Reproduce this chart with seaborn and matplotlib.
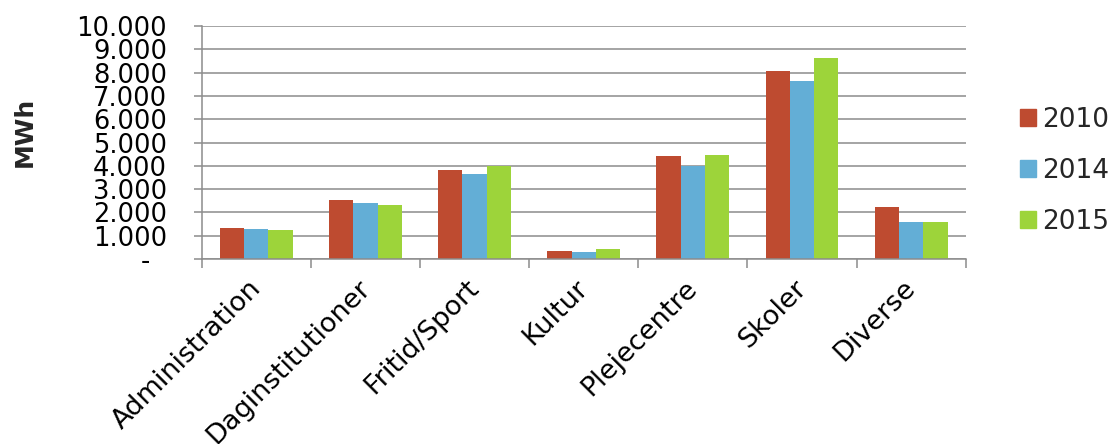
import matplotlib
matplotlib.use("Agg")
import matplotlib.pyplot as plt
import matplotlib.patches as mpatches
from matplotlib.ticker import FixedLocator, FuncFormatter
from matplotlib.transforms import ScaledTranslation
import numpy as np
import pandas as pd
import seaborn as sns

# Energy use per building category (MWh)
categories = ["Administration", "Daginstitutioner", "Fritid/Sport", "Kultur",
              "Plejecentre", "Skoler", "Diverse"]
years = ["2010", "2014", "2015"]
mwh_2010 = [1320, 2530, 3820, 340, 4420, 8050, 2230]
mwh_2014 = [1290, 2420, 3650, 290, 4010, 7640, 1570]
mwh_2015 = [1260, 2320, 3980, 420, 4460, 8610, 1570]
colors = ["#BE4B30", "#63AED6", "#9DD43A"]

df = pd.DataFrame({
    "Kategori": categories * 3,
    "År": [years[0]] * 7 + [years[1]] * 7 + [years[2]] * 7,
    "MWh": mwh_2010 + mwh_2014 + mwh_2015,
})

sns.set_theme(style="white")
plt.rcParams["font.family"] = ["DejaVu Sans"]

fig = plt.figure(figsize=(11.11, 4.44), dpi=100)
ax = fig.add_axes([201.7 / 1111, 1 - 259 / 444, (965.7 - 201.7) / 1111, 233 / 444])

sns.barplot(data=df, x="Kategori", y="MWh", hue="År", order=categories,
            hue_order=years, palette=colors, width=2 / 3, gap=0,
            saturation=1, errorbar=None, linewidth=0, ax=ax)

ax.set_xlim(-0.5, len(categories) - 0.5)
ax.set_ylim(0, 10000)
grid_c = "#8c8c8c"
ax.yaxis.set_major_locator(FixedLocator(np.arange(0, 10001, 1000)))


def dk_fmt(v, pos):
    if v == 0:
        return "-\u2007"
    return f"{int(v):,}".replace(",", ".")


ax.yaxis.set_major_formatter(FuncFormatter(dk_fmt))
ax.grid(axis="y", color=grid_c, linewidth=1.1)
ax.set_axisbelow(True)

for s in ["top", "right"]:
    ax.spines[s].set_visible(False)
for s in ["left", "bottom"]:
    ax.spines[s].set_color(grid_c)
    ax.spines[s].set_linewidth(1.1)

ax.tick_params(axis="y", which="major", left=True, length=6, width=1.1,
               color=grid_c, labelsize=18.5, pad=19, labelcolor="black")
ax.set_xticks(np.arange(-0.5, len(categories), 1.0), minor=True)
ax.tick_params(axis="x", which="minor", bottom=True, length=6.5, width=1.1,
               color=grid_c)
ax.tick_params(axis="x", which="major", bottom=False, length=0,
               labelsize=19.5, pad=13, labelcolor="black")
shift = ScaledTranslation(10 / 100, 2 / 100, fig.dpi_scale_trans)
for lbl in ax.get_xticklabels():
    lbl.set_rotation(45)
    lbl.set_ha("right")
    lbl.set_transform(lbl.get_transform() + shift)

ax.set_xlabel("")
ax.set_ylabel("")
fig.text(25 / 1111, 1 - 132 / 444, "MWh", rotation=90, fontsize=18,
         fontweight="bold", ha="center", va="center")

ax.get_legend().remove()
handles = [mpatches.Patch(color=c, label=y) for c, y in zip(colors, years)]
ax.legend(handles=handles, loc="upper left",
          bbox_to_anchor=(1020 / 1111, 1 - 107 / 444),
          bbox_transform=fig.transFigure, frameon=False, fontsize=19,
          handlelength=0.6, handleheight=0.6, handletextpad=0.25,
          labelspacing=0.95, borderpad=0, borderaxespad=0)

fig.savefig("out.png", dpi=100)
